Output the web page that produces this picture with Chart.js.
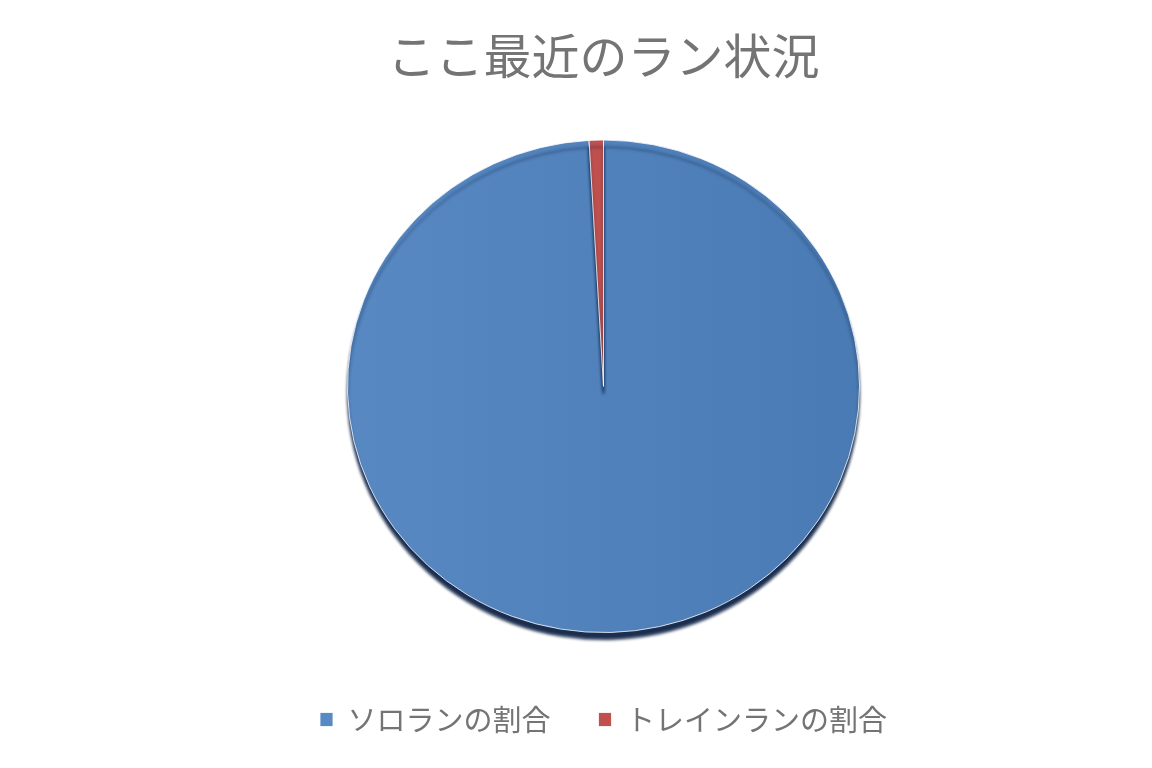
<!DOCTYPE html>
<html lang="ja">
<head>
<meta charset="utf-8">
<title>ここ最近のラン状況</title>
<script src="https://cdn.jsdelivr.net/npm/chart.js@4/dist/chart.umd.min.js"></script>
<style>
  html, body { margin: 0; padding: 0; background: #fff; }
  #wrap { width: 1152px; height: 768px; }
</style>
</head>
<body>
<div id="wrap"><canvas id="grafico" width="1152" height="768"></canvas></div>
<script>
// Datos del gráfico
const categorias = ["ソロランの割合", "トレインランの割合"];
const valores = [99.1, 0.9];
const colores = ["#4f81bd", "#c0504d"];

// Degradado horizontal para la porción azul
function rellenoAzul(ctx) {
  const area = ctx.chart.chartArea;
  if (!area || ctx.dataIndex !== 0) return colores[ctx.dataIndex];
  const g = ctx.chart.ctx.createLinearGradient(area.left + 200, 0, area.right - 200, 0);
  g.addColorStop(0, "#5a8bc5");
  g.addColorStop(1, "#4878b1");
  return g;
}

// Achata un poco el pastel y le pone sombra abajo
const pastel3d = {
  id: "pastel3d",
  beforeDatasetsDraw(chart) {
    const meta = chart.getDatasetMeta(0);
    const arc = meta.data[0];
    if (!arc) return;
    const c = chart.ctx;
    c.save();
    c.translate(arc.x, arc.y);
    c.scale(1, 0.962);
    c.translate(-arc.x, -arc.y);
    c.shadowColor = "rgba(15, 35, 70, 0.95)";
    c.shadowBlur = 3;
    c.shadowOffsetY = 7;
  },
  afterDatasetsDraw(chart) {
    chart.ctx.restore();
  }
};

new Chart(document.getElementById("grafico"), {
  type: "pie",
  data: {
    labels: categorias,
    datasets: [{
      data: valores,
      backgroundColor: rellenoAzul,
      borderColor: "rgba(255,255,255,0.8)",
      borderWidth: 1,
      radius: 256
    }]
  },
  plugins: [pastel3d],
  options: {
    responsive: false,
    animation: false,
    layout: { padding: { left: 55, right: 0, top: 0, bottom: 24 } },
    plugins: {
      title: {
        display: true,
        text: "ここ最近のラン状況",
        color: "#747474",
        font: { family: "'Noto Sans CJK JP', 'Noto Sans', sans-serif", size: 48, weight: "normal" },
        padding: { top: 27, bottom: 31 }
      },
      legend: {
        position: "bottom",
        labels: {
          color: "#747474",
          font: { family: "'Noto Sans CJK JP', 'Noto Sans', sans-serif", size: 29 },
          boxWidth: 13,
          boxHeight: 14,
          padding: 48
        }
      },
      tooltip: { enabled: false }
    }
  }
});
</script>
</body>
</html>
